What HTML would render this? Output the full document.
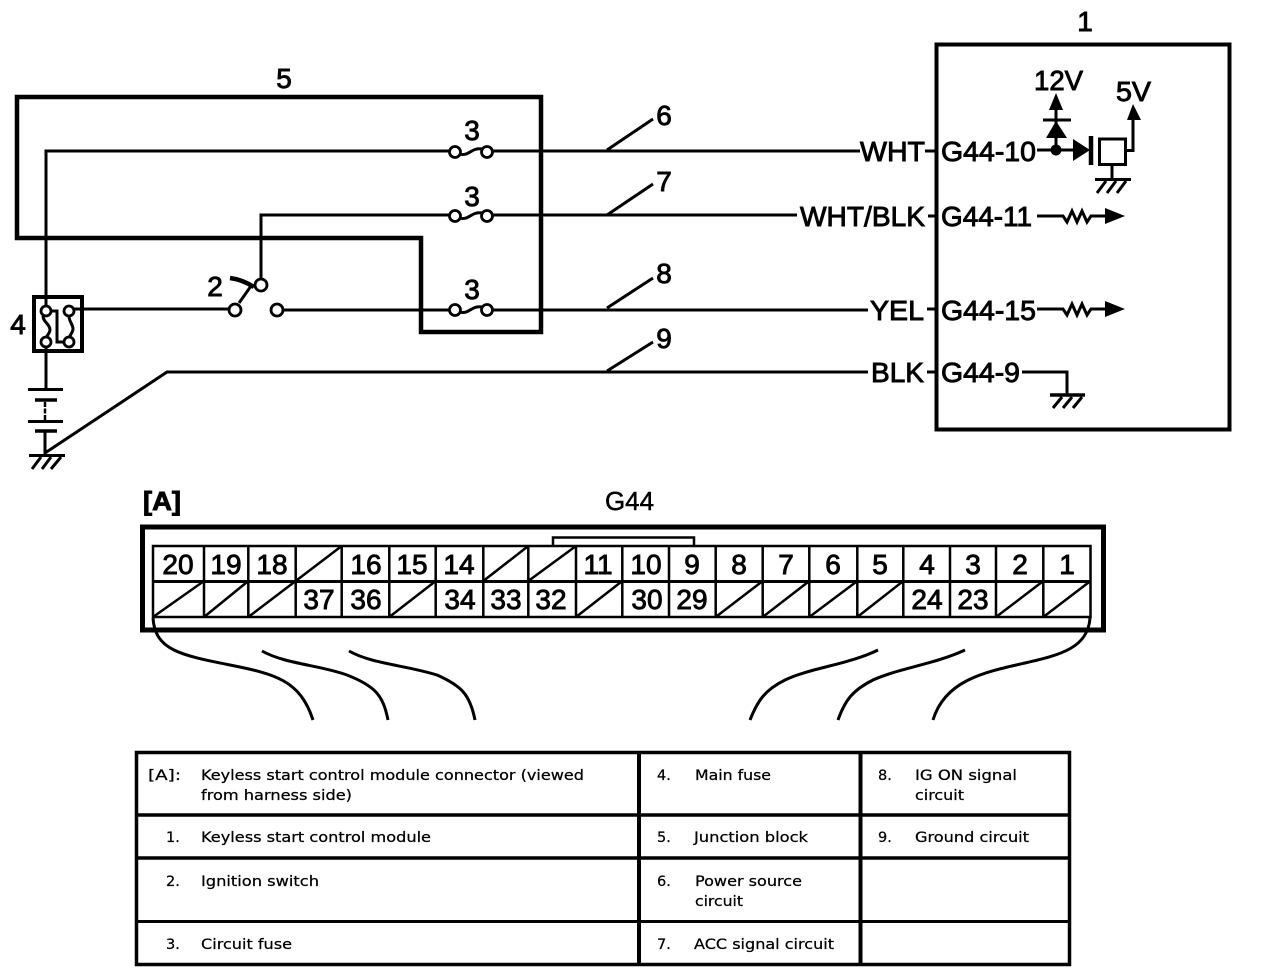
<!DOCTYPE html>
<html><head><meta charset="utf-8"><style>
html,body{margin:0;padding:0;background:#fff;width:1264px;height:980px;overflow:hidden}
svg{display:block}
.l{font-family:"Liberation Sans",sans-serif;font-size:28px;fill:#000;stroke:#000;stroke-width:.9}
.m{text-anchor:middle}
.t{font-family:"DejaVu Sans",sans-serif;font-size:14.5px;fill:#000;stroke:#000;stroke-width:.25}
.w{fill:none;stroke:#000;stroke-width:3}
.c{fill:#fff;stroke:#000;stroke-width:2.8}
</style></head><body>
<svg width="1264" height="980" viewBox="0 0 1264 980" xmlns="http://www.w3.org/2000/svg">
<rect width="1264" height="980" fill="#fff"/>

<!-- junction block -->
<path d="M17,97H541V332H421V238H17Z" fill="none" stroke="#000" stroke-width="4.500"/>

<!-- wires -->
<path class="w" d="M46,311V151H860M925,151H937"/>
<path class="w" d="M261,285V215H797M928,216H937"/>
<path class="w" d="M83,309H235M277,310H868M927,309H937"/>
<path class="w" d="M46,341V389"/>
<path class="w" d="M45,453L167,372H868M927,372H937"/>

<!-- leaders -->
<path class="w" d="M607,150L653,119M607,215L653,184M607,308L653,278M607,371L653,342"/>

<!-- fuses -->
<g>
<rect x="461" y="148" width="20" height="7" fill="#fff"/>
<circle class="c" cx="455" cy="152" r="5.500"/><circle class="c" cx="487" cy="152" r="5.500"/>
<path class="w" d="M460,154C468,157 472,147 482,149"/>
<rect x="461" y="212" width="20" height="7" fill="#fff"/>
<circle class="c" cx="455" cy="216" r="5.500"/><circle class="c" cx="487" cy="216" r="5.500"/>
<path class="w" d="M460,218C468,221 472,211 482,213"/>
<rect x="461" y="306" width="20" height="7" fill="#fff"/>
<circle class="c" cx="455" cy="310" r="5.500"/><circle class="c" cx="487" cy="310" r="5.500"/>
<path class="w" d="M460,312C468,315 472,305 482,307"/>
</g>

<!-- main fuse -->
<rect x="34" y="297" width="48" height="54" fill="#fff" stroke="#000" stroke-width="4"/>
<path class="w" d="M43,316C43,322 50,324 50,330C50,333 47,335 46,338"/>
<path class="w" d="M69,316C69,322 73,324 73,329C73,332 70,335 69,338"/>
<path class="w" d="M50,311H57V342H65"/>
<circle class="c" cx="46" cy="311" r="5"/><circle class="c" cx="69" cy="311" r="5"/>
<circle class="c" cx="46" cy="342" r="5"/><circle class="c" cx="69" cy="342" r="5"/>
<path class="w" d="M46,295V306M46,347V353M84,309H73"/>

<!-- switch -->
<path class="w" d="M239,303L251,286"/>
<path d="M230,278C238,279 246,282 254,287" fill="none" stroke="#000" stroke-width="4.500"/>
<circle class="c" cx="235" cy="310" r="6"/><circle class="c" cx="277" cy="310" r="6"/><circle class="c" cx="261" cy="285" r="6"/>

<!-- battery -->
<path class="w" d="M28,389.500H63M28,421.500H63"/>
<path d="M35,400H57M35,431H57" fill="none" stroke="#000" stroke-width="3.500"/>
<path d="M45,402V421" fill="none" stroke="#000" stroke-width="2.500" stroke-dasharray="5 1.500"/>
<path class="w" d="M45,432V455"/>
<path class="w" d="M29,455.500H65"/>
<path class="w" d="M41,457L32,469M51,457L42,469M61,457L51,469"/>

<!-- module -->
<rect x="936.500" y="44.500" width="293" height="385" fill="none" stroke="#000" stroke-width="4"/>
<path class="w" d="M1037,150H1074"/>
<path d="M1056,93L1063,110H1049Z M1056,121L1067,138H1046Z M1073,139L1090,150L1073,161Z"/>
<path class="w" d="M1056,108V150M1043,120H1071"/>
<circle cx="1056" cy="150" r="5.500"/>
<path d="M1091,136V165" fill="none" stroke="#000" stroke-width="4.500"/>
<rect x="1099.500" y="139" width="26" height="25.500" fill="#fff" stroke="#000" stroke-width="3"/>
<path class="w" d="M1126,150.500H1133V118"/>
<path d="M1133,104L1141,120H1127Z"/>
<path class="w" d="M1112,165V179M1095,179.500H1131"/>
<path class="w" d="M1106,181L1097,193M1116,181L1107,193M1126,181L1117,193"/>

<path class="w" d="M1037,216H1063L1067,222L1072,211L1077,222L1082,211L1087,222L1091,216H1108"/>
<path d="M1105,208L1125,216L1105,224Z"/>
<path class="w" d="M1037,309H1063L1067,315L1072,304L1077,315L1082,304L1087,315L1091,309H1108"/>
<path d="M1105,301L1125,309L1105,317Z"/>
<path class="w" d="M1022,372H1067V395"/>
<path d="M1050,395H1085" fill="none" stroke="#000" stroke-width="3.500"/>
<path class="w" d="M1062,397L1053,408M1072,397L1063,408M1082,397L1073,408"/>

<!-- diagram labels -->
<text class="l m" x="284" y="88">5</text>
<text class="l m" x="1085" y="31">1</text>
<text class="l m" x="472" y="140">3</text>
<text class="l m" x="472" y="206">3</text>
<text class="l m" x="472" y="299">3</text>
<text class="l m" x="664" y="125">6</text>
<text class="l m" x="664" y="191">7</text>
<text class="l m" x="664" y="283">8</text>
<text class="l m" x="664" y="348">9</text>
<text class="l m" x="215" y="296">2</text>
<text class="l m" x="18" y="334">4</text>
<text class="l" x="860" y="161" textLength="65" lengthAdjust="spacingAndGlyphs">WHT</text>
<text class="l" x="800" y="226" textLength="125" lengthAdjust="spacingAndGlyphs">WHT/BLK</text>
<text class="l" x="870" y="320" textLength="54" lengthAdjust="spacingAndGlyphs">YEL</text>
<text class="l" x="871" y="382" textLength="53" lengthAdjust="spacingAndGlyphs">BLK</text>
<text class="l" x="941" y="161" textLength="95" lengthAdjust="spacingAndGlyphs">G44-10</text>
<text class="l" x="941" y="226" textLength="91" lengthAdjust="spacingAndGlyphs">G44-11</text>
<text class="l" x="941" y="320" textLength="95" lengthAdjust="spacingAndGlyphs">G44-15</text>
<text class="l" x="941" y="382" textLength="79" lengthAdjust="spacingAndGlyphs">G44-9</text>
<text class="l" x="1034" y="90" textLength="49" lengthAdjust="spacingAndGlyphs">12V</text>
<text class="l" x="1116" y="101" textLength="35" lengthAdjust="spacingAndGlyphs">5V</text>
<text class="l" x="143" y="510" style="font-weight:bold;font-size:26px" textLength="38" lengthAdjust="spacingAndGlyphs">[A]</text>
<text class="l" x="605" y="510" style="font-size:26px;stroke-width:.5" textLength="49" lengthAdjust="spacingAndGlyphs">G44</text>

<!-- connector -->
<rect x="142.500" y="527" width="961" height="103" fill="none" stroke="#000" stroke-width="5"/>
<path d="M553,545V537.500H694V545" fill="none" stroke="#000" stroke-width="2.500"/>
<rect x="153" y="546" width="937.500" height="71" fill="#fff" stroke="#000" stroke-width="2.500"/>
<path class="w" d="M153,581.500H1090.500"/>
<path class="w" style="stroke-width:2.500" d="M204,546V617M248.300,546V617M295.700,546V617M341.700,546V617M389.300,546V617M435.700,546V617M483.300,546V617M528.300,546V617M576,546V617M622.300,546V617M669,546V617M715.700,546V617M762.700,546V617M809.300,546V617M857.300,546V617M903.300,546V617M950,546V617M996,546V617M1043.300,546V617"/>
<!-- slashes -->
<path class="w" style="stroke-width:2.500" d="M295.700,581L341.700,546M483.300,581L528.300,546M528.300,581L576,546
M153,617L204,581M204,617L248.300,581M248.300,617L295.700,581M389.300,617L435.700,581M576,617L622.300,581
M715.700,617L762.700,581M762.700,617L809.300,581M809.300,617L857.300,581M857.300,617L903.300,581M996,617L1043.300,581M1043.300,617L1090.500,581"/>
<g>
<text class="l m" x="178" y="574">20</text><text class="l m" x="226" y="574">19</text><text class="l m" x="272" y="574">18</text>
<text class="l m" x="366" y="574">16</text><text class="l m" x="412" y="574">15</text><text class="l m" x="459" y="574">14</text>
<text class="l m" x="598" y="574">11</text><text class="l m" x="646" y="574">10</text><text class="l m" x="692" y="574">9</text>
<text class="l m" x="739" y="574">8</text><text class="l m" x="786" y="574">7</text><text class="l m" x="833" y="574">6</text>
<text class="l m" x="880" y="574">5</text><text class="l m" x="927" y="574">4</text><text class="l m" x="973" y="574">3</text>
<text class="l m" x="1020" y="574">2</text><text class="l m" x="1067" y="574">1</text>
<text class="l m" x="319" y="609">37</text><text class="l m" x="366" y="609">36</text><text class="l m" x="460" y="609">34</text>
<text class="l m" x="506" y="609">33</text><text class="l m" x="551" y="609">32</text><text class="l m" x="647" y="609">30</text>
<text class="l m" x="692" y="609">29</text><text class="l m" x="927" y="609">24</text><text class="l m" x="973" y="609">23</text>
</g>

<!-- curves -->
<path class="w" d="M153,618C155,650 180,655 230,665C275,674 300,680 313,720"/>
<path class="w" d="M262,651C285,664 320,665 347,675C375,686 383,695 388,720"/>
<path class="w" d="M349,651C372,664 405,665 437,675C462,686 470,695 475,720"/>
<path class="w" d="M878,650C850,664 810,668 785,680C765,690 758,700 750,720"/>
<path class="w" d="M965,650C935,664 900,668 873,680C853,690 845,700 838,720"/>
<path class="w" d="M1090,618C1088,648 1060,655 1025,663C985,672 945,680 933,720"/>

<!-- table -->
<g fill="none" stroke="#000">
<rect x="136.500" y="752.500" width="933" height="212" stroke-width="3.500"/>
<path stroke-width="3.500" d="M136,815H1070M136,858H1070"/>
<path stroke-width="3" d="M136,921.500H1070"/>
<path stroke-width="4" d="M639,752V965M860.500,752V965"/>
</g>
<g>
<text class="t" x="148" y="780" textLength="33" lengthAdjust="spacingAndGlyphs">[A]:</text>
<text class="t" x="201" y="780" textLength="383" lengthAdjust="spacingAndGlyphs">Keyless start control module connector (viewed</text>
<text class="t" x="201" y="800" textLength="151" lengthAdjust="spacingAndGlyphs">from harness side)</text>
<text class="t" x="166" y="842">1.</text>
<text class="t" x="201" y="842" textLength="230" lengthAdjust="spacingAndGlyphs">Keyless start control module</text>
<text class="t" x="166" y="886">2.</text>
<text class="t" x="201" y="886" textLength="118" lengthAdjust="spacingAndGlyphs">Ignition switch</text>
<text class="t" x="166" y="949">3.</text>
<text class="t" x="201" y="949" textLength="91" lengthAdjust="spacingAndGlyphs">Circuit fuse</text>
<text class="t" x="657" y="780">4.</text>
<text class="t" x="695" y="780" textLength="76" lengthAdjust="spacingAndGlyphs">Main fuse</text>
<text class="t" x="657" y="842">5.</text>
<text class="t" x="694" y="842" textLength="114" lengthAdjust="spacingAndGlyphs">Junction block</text>
<text class="t" x="657" y="886">6.</text>
<text class="t" x="695" y="886" textLength="107" lengthAdjust="spacingAndGlyphs">Power source</text>
<text class="t" x="695" y="906" textLength="48" lengthAdjust="spacingAndGlyphs">circuit</text>
<text class="t" x="657" y="949">7.</text>
<text class="t" x="694" y="949" textLength="140" lengthAdjust="spacingAndGlyphs">ACC signal circuit</text>
<text class="t" x="878" y="780">8.</text>
<text class="t" x="915" y="780" textLength="102" lengthAdjust="spacingAndGlyphs">IG ON signal</text>
<text class="t" x="915" y="800" textLength="49" lengthAdjust="spacingAndGlyphs">circuit</text>
<text class="t" x="878" y="842">9.</text>
<text class="t" x="915" y="842" textLength="114" lengthAdjust="spacingAndGlyphs">Ground circuit</text>
</g>
</svg>
</body></html>
